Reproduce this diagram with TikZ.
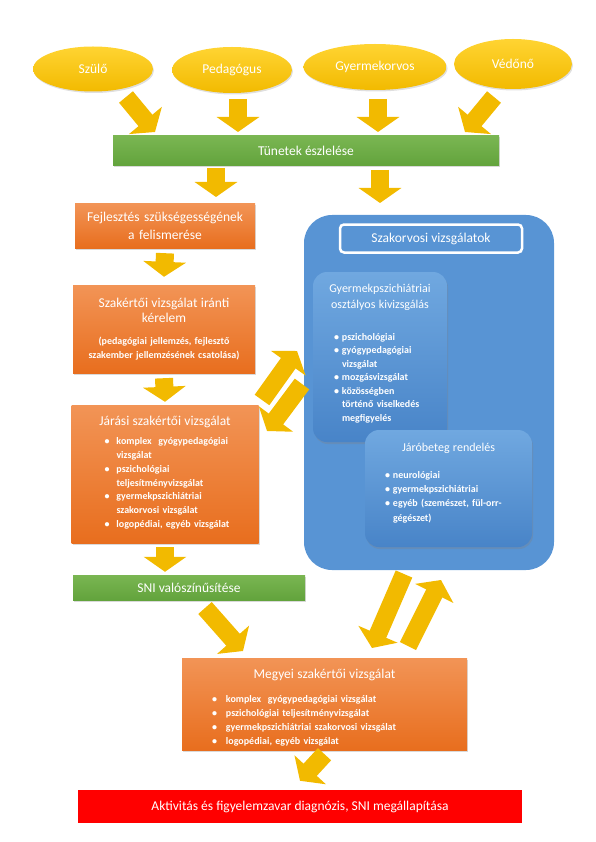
\documentclass[tikz,border=0pt]{standalone}
\usepackage{fontspec}
\setmainfont{Carlito}
\usetikzlibrary{positioning,arrows.meta,shapes.geometric,shadows}

\definecolor{arany}{RGB}{242,186,0}
\definecolor{aranyvil}{RGB}{255,212,50}
\definecolor{zold}{RGB}{98,163,60}
\definecolor{zoldvil}{RGB}{122,182,82}
\definecolor{nar}{RGB}{232,110,30}
\definecolor{narvil}{RGB}{242,148,86}
\definecolor{kek}{RGB}{88,148,212}
\definecolor{kekvil}{RGB}{112,168,224}
\definecolor{keksot}{RGB}{72,132,200}

\newcommand{\felsor}{\fontsize{13.5}{17}\selectfont}
\newcommand{\aprobetu}{\bfseries\fontsize{10}{14}\selectfont}

\begin{document}
\begin{tikzpicture}[x=1pt,y=-1pt,
    ellipszis/.style={ellipse,top color=aranyvil,bottom color=arany,text=white,
        font=\felsor,inner sep=0pt,
        drop shadow={shadow xshift=1pt,shadow yshift=-1.5pt,opacity=0.25}},
    zoldsav/.style={rectangle,top color=zoldvil,bottom color=zold,text=white,
        font=\felsor,inner sep=0pt,
        drop shadow={shadow xshift=1pt,shadow yshift=-1.5pt,opacity=0.3}},
    narancs/.style={rectangle,top color=narvil,bottom color=nar,text=white,
        align=center,inner sep=0pt,
        drop shadow={shadow xshift=1pt,shadow yshift=-1.5pt,opacity=0.3}},
    kekdoboz/.style={rectangle,rounded corners=14pt,top color=kekvil,bottom color=keksot,
        text=white,align=center,inner sep=0pt,
        drop shadow={shadow xshift=1pt,shadow yshift=-2pt,opacity=0.3}},
    nyil/.style={-{Triangle[width=42pt,length=15pt]},line width=18pt,draw=arany}
]
\useasboundingbox (0,0) rectangle (595,842);

% forrasok
\node[ellipszis,minimum width=120pt,minimum height=45pt] (szulo) at (93,69) {Szülő};
\node[ellipszis,minimum width=120pt,minimum height=46pt] (ped) at (232,70) {Pedagógus};
\node[ellipszis,minimum width=143pt,minimum height=46pt] (gyorv) at (375,67) {Gyermekorvos};
\node[ellipszis,minimum width=118pt,minimum height=50pt] (vedo) at (513,64) {Védőnő};

\node[zoldsav,minimum width=386pt,minimum height=30pt] (tun) at (306,151) {Tünetek észlelése};

% bal oszlop
\node[narancs,text width=180pt,minimum height=44pt,font=\fontsize{13.5}{18}\selectfont] (fejl) at (165,226)
    {Fejlesztés szükségességének\\a felismerése};
\node[narancs,text width=182pt,minimum height=88pt] (kerelem) at (164,329)
    {{\fontsize{13.5}{15.5}\selectfont Szakértői vizsgálat iránti\\kérelem\par}\vspace{8pt}
     {\aprobetu (pedagógiai jellemzés, fejlesztő\\szakember jellemzésének csatolása)\par}};
\node[narancs,text width=187pt,minimum height=138pt] (jaras) at (165,474)
    {{\felsor Járási szakértői vizsgálat\par}\vspace{5pt}
     {\raggedright\bfseries\fontsize{10}{13.9}\selectfont\hspace*{33pt}%
      \begin{tabular}[t]{@{}p{12pt}@{}l@{}}
      • & komplex\ \ gyógypedagógiai\\
        & vizsgálat\\
      • & pszichológiai\\
        & teljesítményvizsgálat\\
      • & gyermekpszichiátriai\\
        & szakorvosi vizsgálat\\
      • & logopédiai, egyéb vizsgálat
      \end{tabular}\par}};
\node[zoldsav,minimum width=232pt,minimum height=25pt] (sni) at (189,587.5) {SNI valószínűsítése};

% szakorvosi panel
\node[rectangle,rounded corners=28pt,fill=kek,minimum width=250pt,minimum height=355pt] (panel) at (429,392.5) {};
\node[rectangle,rounded corners=4pt,fill=kek,draw=white,line width=2.5pt,text=white,
    font=\felsor,minimum width=182pt,minimum height=28pt] (szakcim) at (431,238.5) {Szakorvosi vizsgálatok};
\node[kekdoboz,text width=134pt,minimum height=170pt] (gyp) at (380,357)
    {{\fontsize{12}{16}\selectfont Gyermekpszichiátriai\\osztályos kivizsgálás\par}\vspace{18pt}
     {\raggedright\bfseries\fontsize{10}{13.5}\selectfont\hspace*{21pt}%
      \begin{tabular}[t]{@{}p{8pt}@{}l@{}}
      • & pszichológiai\\
      • & gyógypedagógiai\\
        & vizsgálat\\
      • & mozgásvizsgálat\\
      • & közösségben\\
        & történő viselkedés\\
        & megfigyelés
      \end{tabular}\par}\vspace{4pt}};
\node[kekdoboz,text width=167pt,minimum height=117pt] (jaro) at (448.5,488.5)
    {{\fontsize{12}{16}\selectfont Járóbeteg rendelés\par}\vspace{12pt}
     {\raggedright\bfseries\fontsize{10}{14.3}\selectfont\hspace*{20pt}%
      \begin{tabular}[t]{@{}p{8pt}@{}l@{}}
      • & neurológiai\\
      • & gyermekpszichiátriai\\
      • & egyéb (szemészet, fül-orr-\\
        & gégészet)
      \end{tabular}\par}\vspace{8pt}};

% also resz
\node[narancs,text width=285pt,minimum height=92pt] (megyei) at (324.5,704)
    {{\felsor Megyei szakértői vizsgálat\par}\vspace{10pt}
     {\raggedright\bfseries\fontsize{10}{14}\selectfont\hspace*{30pt}%
      \begin{tabular}[t]{@{}p{14pt}@{}l@{}}
      • & komplex\ \ gyógypedagógiai vizsgálat\\
      • & pszichológiai teljesítményvizsgálat\\
      • & gyermekpszichiátriai szakorvosi vizsgálat\\
      • & logopédiai, egyéb vizsgálat
      \end{tabular}\par}\vspace{-10pt}};
\node[rectangle,fill=red,text=white,font=\felsor,minimum width=444pt,minimum height=33pt] (diag) at (300,806.5)
    {Aktivitás és figyelemzavar diagnózis, SNI megállapítása};

% nyilak vegpontjai
\coordinate (szulo1) at (126,97);  \coordinate (szulo2) at (155,132);
\coordinate (ped1) at (238,99);    \coordinate (ped2) at (238,132);
\coordinate (gyorv1) at (378,99);  \coordinate (gyorv2) at (378,132);
\coordinate (vedo1) at (494,97);   \coordinate (vedo2) at (465,132);
\coordinate (tunb1) at (216,168);  \coordinate (tunb2) at (216,197);
\coordinate (tunj1) at (380,170);  \coordinate (tunj2) at (380,203);
\coordinate (bal1) at (262,400);   \coordinate (bal2) at (297,351);
\coordinate (bal3) at (302,384);   \coordinate (bal4) at (267,431);
\coordinate (lent1) at (404,574);  \coordinate (lent2) at (372,648);
\coordinate (lent3) at (408,646);  \coordinate (lent4) at (441,580);
\coordinate (sni1) at (205,608);   \coordinate (sni2) at (243,651);

% nyilak
\draw[nyil] (szulo1) -- (szulo2);
\draw[nyil] (ped1) -- (ped2);
\draw[nyil] (gyorv1) -- (gyorv2);
\draw[nyil] (vedo1) -- (vedo2);
\draw[nyil] (tunb1) -- (tunb2);
\draw[nyil] (tunj1) -- (tunj2);
\draw[nyil] ([yshift=-5pt]fejl.south) -- ([yshift=8pt]kerelem.north);
\draw[nyil] ([yshift=-5pt]kerelem.south) -- ([yshift=3pt]jaras.north);
\draw[nyil] ([yshift=-4pt]jaras.south) -- ([yshift=3pt]sni.north -| jaras);
\draw[nyil] (bal1) -- (bal2);
\draw[nyil] (bal3) -- (bal4);
\draw[nyil] (lent1) -- (lent2);
\draw[nyil] (lent3) -- (lent4);
\draw[nyil] (sni1) -- (sni2);
\draw[nyil] ([yshift=-4pt]megyei.south) -- ([yshift=9pt]diag.north);

\end{tikzpicture}
\end{document}
